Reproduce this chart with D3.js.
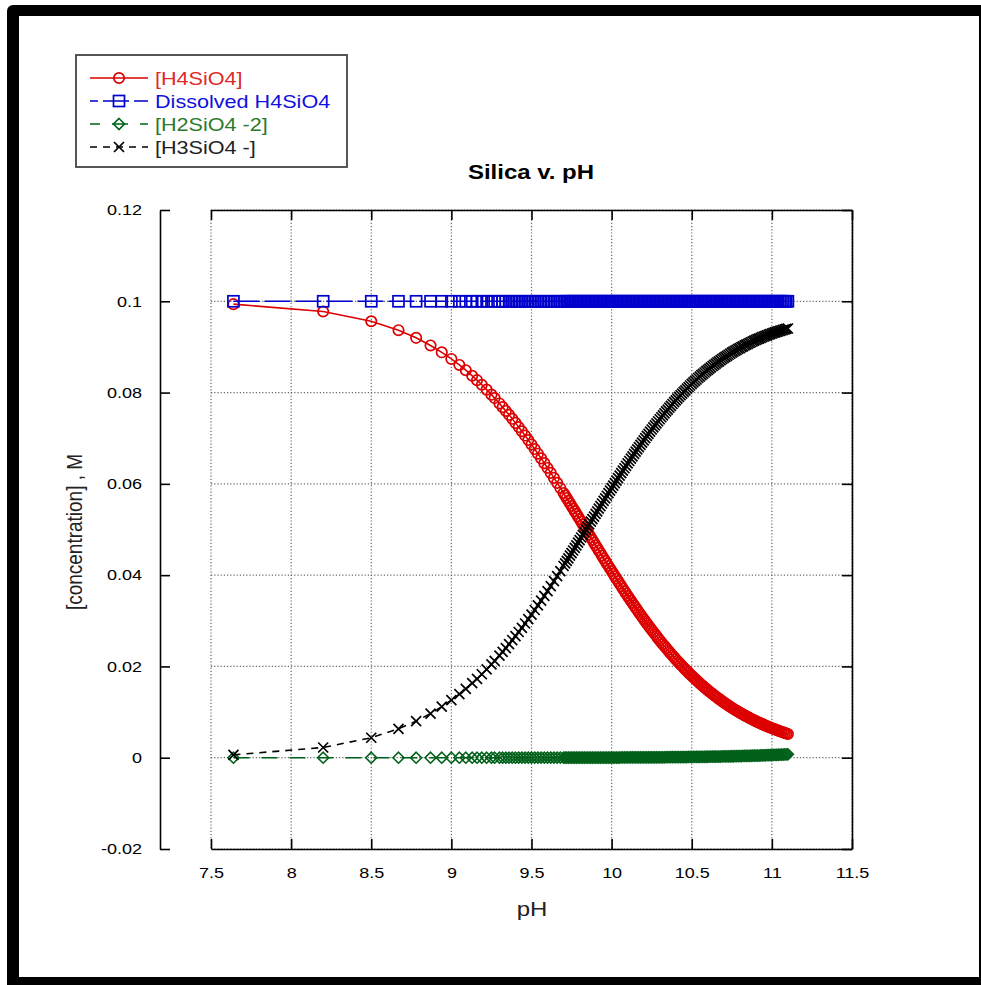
<!DOCTYPE html>
<html>
<head>
<meta charset="utf-8">
<script src="https://cdn.jsdelivr.net/npm/d3@7"></script>
<style>
  body { margin: 0; background: #fff; }
  svg text { font-family: "Liberation Sans", Arial, sans-serif; }
</style>
</head>
<body>
<script>
// pH of each sample
const pH = [
  7.64, 8.20, 8.50, 8.67, 8.78, 8.87, 8.94, 9.00, 9.05, 9.09, 9.13, 9.16, 9.19, 9.22, 9.25, 9.27,
  9.30, 9.32, 9.34, 9.36, 9.38, 9.40, 9.42, 9.44, 9.46, 9.48, 9.50, 9.52, 9.54, 9.56, 9.58, 9.60, 9.62, 9.64, 9.66, 9.68, 9.70,
  9.71, 9.72, 9.73, 9.74, 9.75, 9.76, 9.77, 9.78, 9.79, 9.80,
  9.81, 9.82, 9.83, 9.84, 9.85, 9.86, 9.87, 9.88, 9.89, 9.90,
  9.91, 9.92, 9.93, 9.94, 9.95, 9.96, 9.97, 9.98, 9.99, 10.00,
  10.01, 10.02, 10.03, 10.04, 10.05, 10.06, 10.07, 10.08, 10.09, 10.10,
  10.11, 10.12, 10.13, 10.14, 10.15, 10.16, 10.17, 10.18, 10.19, 10.20,
  10.21, 10.22, 10.23, 10.24, 10.25, 10.26, 10.27, 10.28, 10.29, 10.30,
  10.31, 10.32, 10.33, 10.34, 10.35, 10.36, 10.37, 10.38, 10.39, 10.40,
  10.41, 10.42, 10.43, 10.44, 10.45, 10.46, 10.47, 10.48, 10.49, 10.50,
  10.51, 10.52, 10.53, 10.54, 10.55, 10.56, 10.57, 10.58, 10.59, 10.60,
  10.61, 10.62, 10.63, 10.64, 10.65, 10.66, 10.67, 10.68, 10.69, 10.70,
  10.71, 10.72, 10.73, 10.74, 10.75, 10.76, 10.77, 10.78, 10.79, 10.80,
  10.81, 10.82, 10.83, 10.84, 10.85, 10.86, 10.87, 10.88, 10.89, 10.90,
  10.91, 10.92, 10.93, 10.94, 10.95, 10.96, 10.97, 10.98, 10.99, 11.00,
  11.01, 11.02, 11.03, 11.04, 11.05, 11.06, 11.07, 11.08, 11.09, 11.10
];

// [H4SiO4]
const h4 = [
  0.09937, 0.09776, 0.09563, 0.09367, 0.09199, 0.09032, 0.08882, 0.08737, 0.08605, 0.08490, 0.08368, 0.08272, 0.08171, 0.08065, 0.07955, 0.07879,
  0.07762, 0.07681, 0.07597, 0.07512, 0.07425, 0.07336, 0.07245, 0.07153, 0.07058, 0.06961, 0.06863, 0.06763, 0.06661, 0.06558, 0.06454, 0.06348, 0.06240, 0.06131, 0.06022, 0.05911, 0.05799,
  0.05743, 0.05687, 0.05630, 0.05573, 0.05516, 0.05459, 0.05402, 0.05345, 0.05287, 0.05230,
  0.05173, 0.05115, 0.05058, 0.05000, 0.04942, 0.04885, 0.04827, 0.04770, 0.04713, 0.04655,
  0.04598, 0.04541, 0.04484, 0.04427, 0.04370, 0.04313, 0.04257, 0.04201, 0.04145, 0.04089,
  0.04034, 0.03978, 0.03923, 0.03869, 0.03814, 0.03760, 0.03706, 0.03653, 0.03599, 0.03546,
  0.03494, 0.03442, 0.03390, 0.03339, 0.03288, 0.03237, 0.03187, 0.03137, 0.03088, 0.03039,
  0.02990, 0.02942, 0.02895, 0.02847, 0.02801, 0.02755, 0.02709, 0.02664, 0.02619, 0.02575,
  0.02531, 0.02488, 0.02445, 0.02403, 0.02361, 0.02319, 0.02279, 0.02238, 0.02199, 0.02159,
  0.02121, 0.02083, 0.02045, 0.02008, 0.01971, 0.01935, 0.01899, 0.01864, 0.01829, 0.01795,
  0.01761, 0.01728, 0.01696, 0.01663, 0.01632, 0.01600, 0.01570, 0.01540, 0.01510, 0.01481,
  0.01452, 0.01423, 0.01395, 0.01368, 0.01341, 0.01315, 0.01289, 0.01263, 0.01238, 0.01213,
  0.01189, 0.01165, 0.01141, 0.01118, 0.01095, 0.01073, 0.01051, 0.01030, 0.01009, 0.00988,
  0.00968, 0.00948, 0.00928, 0.00909, 0.00890, 0.00872, 0.00854, 0.00836, 0.00818, 0.00801,
  0.00784, 0.00768, 0.00752, 0.00736, 0.00720, 0.00705, 0.00690, 0.00675, 0.00661, 0.00647,
  0.00633, 0.00620, 0.00607, 0.00594, 0.00581, 0.00568, 0.00556, 0.00544, 0.00532, 0.00521
];

// total dissolved silica
const dissolved = [
  0.1, 0.1, 0.1, 0.1, 0.1, 0.1, 0.1, 0.1, 0.1, 0.1, 0.1, 0.1, 0.1, 0.1, 0.1, 0.1,
  0.1, 0.1, 0.1, 0.1, 0.1, 0.1, 0.1, 0.1, 0.1, 0.1, 0.1, 0.1, 0.1, 0.1, 0.1, 0.1, 0.1, 0.1, 0.1, 0.1, 0.1,
  0.1, 0.1, 0.1, 0.1, 0.1, 0.1, 0.1, 0.1, 0.1, 0.1,
  0.1, 0.1, 0.1, 0.1, 0.1, 0.1, 0.1, 0.1, 0.1, 0.1,
  0.1, 0.1, 0.1, 0.1, 0.1, 0.1, 0.1, 0.1, 0.1, 0.1,
  0.1, 0.1, 0.1, 0.1, 0.1, 0.1, 0.1, 0.1, 0.1, 0.1,
  0.1, 0.1, 0.1, 0.1, 0.1, 0.1, 0.1, 0.1, 0.1, 0.1,
  0.1, 0.1, 0.1, 0.1, 0.1, 0.1, 0.1, 0.1, 0.1, 0.1,
  0.1, 0.1, 0.1, 0.1, 0.1, 0.1, 0.1, 0.1, 0.1, 0.1,
  0.1, 0.1, 0.1, 0.1, 0.1, 0.1, 0.1, 0.1, 0.1, 0.1,
  0.1, 0.1, 0.1, 0.1, 0.1, 0.1, 0.1, 0.1, 0.1, 0.1,
  0.1, 0.1, 0.1, 0.1, 0.1, 0.1, 0.1, 0.1, 0.1, 0.1,
  0.1, 0.1, 0.1, 0.1, 0.1, 0.1, 0.1, 0.1, 0.1, 0.1,
  0.1, 0.1, 0.1, 0.1, 0.1, 0.1, 0.1, 0.1, 0.1, 0.1,
  0.1, 0.1, 0.1, 0.1, 0.1, 0.1, 0.1, 0.1, 0.1, 0.1,
  0.1, 0.1, 0.1, 0.1, 0.1, 0.1, 0.1, 0.1, 0.1, 0.1
];

// [H2SiO4 -2]
const h2 = [
  0, 0, 0, 0, 0, 0, 0, 0, 0, 0, 0, 0, 0, 0, 0, 0,
  0, 0, 0, 0, 0, 0, 0.00001, 0.00001, 0.00001, 0.00001, 0.00001, 0.00001, 0.00001, 0.00001, 0.00001, 0.00001, 0.00001, 0.00001, 0.00001, 0.00001, 0.00001,
  0.00001, 0.00001, 0.00001, 0.00001, 0.00001, 0.00001, 0.00002, 0.00002, 0.00002, 0.00002,
  0.00002, 0.00002, 0.00002, 0.00002, 0.00002, 0.00002, 0.00002, 0.00002, 0.00003, 0.00003,
  0.00003, 0.00003, 0.00003, 0.00003, 0.00003, 0.00003, 0.00004, 0.00004, 0.00004, 0.00004,
  0.00004, 0.00004, 0.00004, 0.00004, 0.00004, 0.00005, 0.00005, 0.00005, 0.00005, 0.00005,
  0.00005, 0.00006, 0.00006, 0.00006, 0.00006, 0.00006, 0.00007, 0.00007, 0.00007, 0.00007,
  0.00007, 0.00008, 0.00008, 0.00008, 0.00008, 0.00008, 0.00009, 0.00009, 0.00009, 0.00009,
  0.00010, 0.00010, 0.00010, 0.00011, 0.00011, 0.00011, 0.00012, 0.00012, 0.00012, 0.00012,
  0.00013, 0.00013, 0.00014, 0.00014, 0.00014, 0.00015, 0.00015, 0.00016, 0.00016, 0.00016,
  0.00017, 0.00017, 0.00018, 0.00018, 0.00019, 0.00019, 0.00020, 0.00020, 0.00021, 0.00021,
  0.00022, 0.00023, 0.00023, 0.00024, 0.00024, 0.00025, 0.00026, 0.00026, 0.00027, 0.00028,
  0.00029, 0.00029, 0.00030, 0.00031, 0.00032, 0.00032, 0.00033, 0.00034, 0.00035, 0.00036,
  0.00037, 0.00038, 0.00039, 0.00040, 0.00041, 0.00042, 0.00043, 0.00044, 0.00045, 0.00046,
  0.00047, 0.00048, 0.00050, 0.00051, 0.00052, 0.00053, 0.00055, 0.00056, 0.00057, 0.00059,
  0.00060, 0.00062, 0.00063, 0.00065, 0.00066, 0.00068, 0.00070, 0.00071, 0.00073, 0.00075
];

// [H3SiO4 -]
const h3 = [
  0.00063, 0.00224, 0.00437, 0.00633, 0.00801, 0.00968, 0.01118, 0.01263, 0.01395, 0.01510, 0.01632, 0.01728, 0.01829, 0.01935, 0.02045, 0.02121,
  0.02238, 0.02319, 0.02403, 0.02488, 0.02575, 0.02664, 0.02754, 0.02846, 0.02941, 0.03038, 0.03136, 0.03236, 0.03338, 0.03441, 0.03545, 0.03651, 0.03759, 0.03868, 0.03977, 0.04088, 0.04200,
  0.04256, 0.04312, 0.04369, 0.04426, 0.04483, 0.04540, 0.04596, 0.04653, 0.04711, 0.04768,
  0.04825, 0.04883, 0.04940, 0.04998, 0.05056, 0.05113, 0.05171, 0.05228, 0.05284, 0.05342,
  0.05399, 0.05456, 0.05513, 0.05570, 0.05627, 0.05684, 0.05739, 0.05795, 0.05851, 0.05907,
  0.05962, 0.06018, 0.06073, 0.06127, 0.06182, 0.06235, 0.06289, 0.06342, 0.06396, 0.06449,
  0.06501, 0.06552, 0.06604, 0.06655, 0.06706, 0.06757, 0.06806, 0.06856, 0.06905, 0.06954,
  0.07003, 0.07050, 0.07097, 0.07145, 0.07191, 0.07237, 0.07282, 0.07327, 0.07372, 0.07416,
  0.07459, 0.07502, 0.07545, 0.07586, 0.07628, 0.07670, 0.07709, 0.07750, 0.07789, 0.07829,
  0.07866, 0.07904, 0.07941, 0.07978, 0.08015, 0.08050, 0.08086, 0.08120, 0.08155, 0.08189,
  0.08222, 0.08255, 0.08286, 0.08319, 0.08349, 0.08381, 0.08410, 0.08440, 0.08469, 0.08498,
  0.08526, 0.08554, 0.08582, 0.08608, 0.08635, 0.08660, 0.08685, 0.08711, 0.08735, 0.08759,
  0.08782, 0.08806, 0.08829, 0.08851, 0.08873, 0.08895, 0.08916, 0.08936, 0.08956, 0.08976,
  0.08995, 0.09014, 0.09033, 0.09051, 0.09069, 0.09086, 0.09103, 0.09120, 0.09137, 0.09153,
  0.09169, 0.09184, 0.09198, 0.09213, 0.09228, 0.09242, 0.09255, 0.09269, 0.09282, 0.09294,
  0.09307, 0.09318, 0.09330, 0.09341, 0.09353, 0.09364, 0.09374, 0.09385, 0.09395, 0.09404
];

const seriesNames = ['[H4SiO4]', 'Dissolved H4SiO4', '[H2SiO4 -2]', '[H3SiO4 -]'];
const xTicks = [7.5, 8, 8.5, 9, 9.5, 10, 10.5, 11, 11.5];
const xTickLabels = ['7.5', '8', '8.5', '9', '9.5', '10', '10.5', '11', '11.5'];
const yTicks = [-0.02, 0, 0.02, 0.04, 0.06, 0.08, 0.1, 0.12];
const yTickLabels = ['-0.02', '0', '0.02', '0.04', '0.06', '0.08', '0.1', '0.12'];

var W = 981, H = 985;
var SX = 1.2; // picture is stretched sideways, so is the text
var plot = { left: 211, right: 852, top: 210, bottom: 849 };
var yAxisX = 160;

var svg = d3.select('body').append('svg')
  .attr('width', W).attr('height', H);

// outer black frame
svg.append('rect').attr('x', 7).attr('y', 5).attr('width', W - 7 + 10).attr('height', H - 5 + 10)
  .attr('rx', 6).attr('fill', '#000');
svg.append('rect').attr('x', 19).attr('y', 16).attr('width', 960).attr('height', 961)
  .attr('fill', '#fff');

var x = d3.scaleLinear().domain([7.5, 11.5]).range([plot.left, plot.right]);
var y = d3.scaleLinear().domain([-0.02, 0.12]).range([plot.bottom, plot.top]);

function stretchText(sel) {
  sel.attr('transform', 'scale(' + SX + ',1)');
}

// grid
var grid = svg.append('g').attr('class', 'grid')
  .attr('stroke', '#666').attr('stroke-width', 1.2).attr('stroke-dasharray', '1.2,2');
grid.selectAll('.gx').data(xTicks).enter().append('line')
  .attr('x1', function (d) { return x(d); }).attr('x2', function (d) { return x(d); })
  .attr('y1', plot.top).attr('y2', plot.bottom);
grid.selectAll('.gy').data(yTicks).enter().append('line')
  .attr('y1', function (d) { return y(d); }).attr('y2', function (d) { return y(d); })
  .attr('x1', plot.left).attr('x2', plot.right);

// axes
var xAxis = d3.axisBottom(x).tickValues(xTicks)
  .tickFormat(function (d, i) { return xTickLabels[i]; })
  .tickSizeInner(-10).tickSizeOuter(0).tickPadding(18);
var gx = svg.append('g').attr('transform', 'translate(0,' + plot.bottom + ')').call(xAxis);
gx.selectAll('text').style('font-size', '15px').attr('fill', '#000').call(stretchText);

svg.append('g').attr('transform', 'translate(0,' + plot.top + ')')
  .call(d3.axisTop(x).tickValues(xTicks).tickFormat('').tickSizeInner(-10).tickSizeOuter(0));

svg.append('g').attr('transform', 'translate(' + plot.right + ',0)')
  .call(d3.axisRight(y).tickValues(yTicks).tickFormat('').tickSizeInner(-10).tickSizeOuter(0));

var yAxis = d3.axisLeft(y).tickValues(yTicks)
  .tickFormat(function (d, i) { return yTickLabels[i]; })
  .tickSizeInner(-10).tickSizeOuter(0).tickPadding(18);
var gy = svg.append('g').attr('transform', 'translate(' + yAxisX + ',0)').call(yAxis);
gy.selectAll('text').style('font-size', '15px').attr('fill', '#000')
  .attr('x', -18 / SX).call(stretchText);

svg.selectAll('.domain, .tick line').attr('stroke', '#000').attr('stroke-width', 1.6);

// series
var seriesList = [
  { name: seriesNames[0], values: h4, color: '#dd0000', text: '#e02a2a', dash: null, marker: 'circle' },
  { name: seriesNames[1], values: dissolved, color: '#0000cc', text: '#1010e0', dash: '26,5', marker: 'square' },
  { name: seriesNames[2], values: h2, color: '#00601a', text: '#2b7a2b', dash: '16,12', marker: 'diamond' },
  { name: seriesNames[3], values: h3, color: '#000000', text: '#222222', dash: '7,6', marker: 'cross' }
];

function drawMarker(g, type, color) {
  if (type === 'circle') {
    g.append('circle').attr('r', 5.2).attr('fill', 'none').attr('stroke', color).attr('stroke-width', 1.7);
  } else if (type === 'square') {
    g.append('rect').attr('x', -5.5).attr('y', -5.5).attr('width', 11).attr('height', 11)
      .attr('fill', 'none').attr('stroke', color).attr('stroke-width', 1.7);
  } else if (type === 'diamond') {
    g.append('path').attr('d', 'M0,-5.5L5.5,0L0,5.5L-5.5,0Z')
      .attr('fill', 'none').attr('stroke', color).attr('stroke-width', 1.6);
  } else {
    g.append('path').attr('d', 'M-5,-5L5,5M-5,5L5,-5')
      .attr('fill', 'none').attr('stroke', color).attr('stroke-width', 1.7);
  }
}

var line = d3.line()
  .x(function (d) { return x(d[0]); })
  .y(function (d) { return y(d[1]); });

seriesList.forEach(function (s) {
  var pts = pH.map(function (p, i) { return [p, s.values[i]]; });
  svg.append('path').datum(pts)
    .attr('d', line)
    .attr('fill', 'none')
    .attr('stroke', s.color)
    .attr('stroke-width', 1.6)
    .attr('stroke-dasharray', s.dash);
  svg.append('g').selectAll('g').data(pts).enter().append('g')
    .attr('transform', function (d) { return 'translate(' + x(d[0]) + ',' + y(d[1]) + ')'; })
    .each(function () { drawMarker(d3.select(this), s.marker, s.color); });
});

// legend
var legend = svg.append('g').attr('id', 'legend');
legend.append('rect').attr('x', 76).attr('y', 55).attr('width', 271).attr('height', 112)
  .attr('fill', '#fff').attr('stroke', '#444').attr('stroke-width', 1.8);
var rowY = [78, 101, 124, 147];
var dashOffset = [0, 18, 6, 0];
seriesList.forEach(function (s, i) {
  var row = legend.append('g').attr('transform', 'translate(0,' + rowY[i] + ')');
  row.append('line').attr('x1', 90).attr('x2', 148).attr('y1', 0).attr('y2', 0)
    .attr('stroke', s.color).attr('stroke-width', 1.5)
    .attr('stroke-dasharray', s.dash).attr('stroke-dashoffset', dashOffset[i]);
  var m = row.append('g').attr('transform', 'translate(119,0)');
  drawMarker(m, s.marker, s.color);
  row.append('text').attr('transform', 'translate(155,6.5) scale(' + SX + ',1)')
    .style('font-size', '18px').attr('fill', s.text).text(s.name);
});

// title and axis labels
svg.append('text').attr('transform', 'translate(531,179) scale(' + SX + ',1)')
  .attr('text-anchor', 'middle').style('font-size', '20px').style('font-weight', 'bold')
  .text('Silica v. pH');

svg.append('text').attr('transform', 'translate(532,916) scale(' + SX + ',1)')
  .attr('text-anchor', 'middle').style('font-size', '20px').attr('fill', '#222')
  .text('pH');

svg.append('text').attr('transform', 'translate(82,532) scale(' + SX + ',1) rotate(-90)')
  .attr('text-anchor', 'middle').style('font-size', '19px').attr('fill', '#222')
  .text('[concentration] , M');
</script>
</body>
</html>
